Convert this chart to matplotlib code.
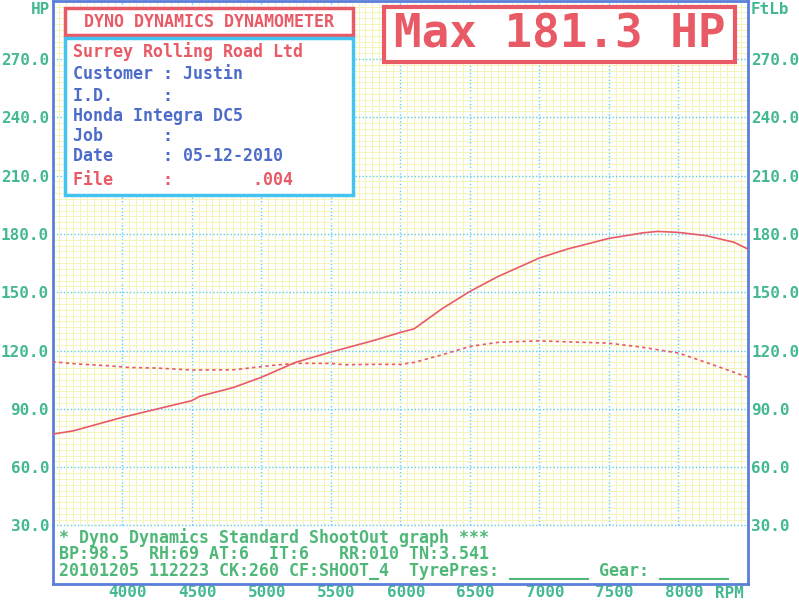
import matplotlib
matplotlib.use("Agg")
import matplotlib.pyplot as plt
from matplotlib.patches import Rectangle
from matplotlib.transforms import ScaledTranslation
import numpy as np

# power curve (HP)
rpm_hp = [3500, 3650, 4000, 4250, 4500, 4560, 4800, 5000, 5250, 5500, 5800, 6000,
          6100, 6300, 6500, 6700, 7000, 7200, 7500, 7750, 7850, 8000, 8200, 8400, 8500]
hp = [77.0, 78.7, 85.6, 89.9, 94.2, 96.5, 101.0, 106.2, 114.0, 119.2, 125.0, 129.3,
      131.2, 141.5, 150.4, 158.0, 167.6, 172.2, 177.7, 180.6, 181.3, 180.8, 179.1, 175.7, 172.2]

# torque curve (FtLb)
rpm_tq = [3500, 3700, 3900, 4050, 4250, 4500, 4800, 4950, 5100, 5250, 5500, 5600, 5800,
          6000, 6100, 6300, 6500, 6700, 7000, 7200, 7500, 7750, 8000, 8200, 8400, 8500]
tq = [114.2, 113.0, 112.2, 111.3, 111.0, 110.0, 110.1, 111.3, 112.5, 113.4, 113.4, 112.7, 112.9,
      112.9, 113.9, 117.8, 122.1, 124.2, 125.0, 124.5, 123.8, 121.6, 118.7, 113.9, 108.8, 106.2]

rpm_ticks = [4000, 4500, 5000, 5500, 6000, 6500, 7000, 7500, 8000]
val_ticks = [30, 60, 90, 120, 150, 180, 210, 240, 270]

header = "DYNO DYNAMICS DYNAMOMETER"
max_text = "Max 181.3 HP"
info_lines = ["Surrey Rolling Road Ltd",
              "Customer : Justin",
              "I.D.     :",
              "Honda Integra DC5",
              "Job      :",
              "Date     : 05-12-2010",
              "File     :        .004"]
foot_lines = ["* Dyno Dynamics Standard ShootOut graph ***",
              "BP:98.5  RH:69 AT:6  IT:6   RR:010 TN:3.541",
              "20101205 112223 CK:260 CF:SHOOT_4  TyrePres: ________ Gear: _______"]

RED = "#e85a66"
BLUE = "#4d6cc9"
CYAN = "#45c3ef"
FRAME = "#5b7fd9"
TICK = "#44b991"
FOOT = "#4fb878"

plt.rcParams['font.family'] = ['DejaVu Sans Mono']
plt.rcParams['font.weight'] = 'bold'

W, H = 799, 601
fig = plt.figure(figsize=(W / 100, H / 100), dpi=100)

def fx(x):
    return x / W

def fy(y):
    return 1 - y / H

ax = fig.add_axes([fx(52.5), fy(583.8), (748 - 52.5) / W, (583.8 - 0.7) / H])
ax.set_xlim(3500, 8500)
ax.set_ylim(0, 300)

ax.set_xticks(rpm_ticks)
ax.set_xticks(np.arange(3500, 8501, 50), minor=True)
ax.set_yticks(val_ticks)
ax.set_yticks(np.arange(0, 301, 3), minor=True)
ax.grid(which='minor', color='#f4f4b6', lw=0.7)
ax.grid(which='major', color='#5ccfe9', ls=(0, (1, 1.5)), lw=1.0)

ax.set_xticklabels([str(v) for v in rpm_ticks])
ax.set_yticklabels(["%.1f" % v for v in val_ticks])
ax.tick_params(which='both', length=0)
ax.tick_params(axis='y', labelleft=True, labelright=True, pad=2.5,
               labelsize=11.5, labelcolor=TICK)
ax.tick_params(axis='x', pad=1, labelsize=11.5, labelcolor=TICK)
for lab in ax.get_xticklabels():
    lab.set_transform(lab.get_transform() + ScaledTranslation(4 / 72, 0, fig.dpi_scale_trans))

for s in ax.spines.values():
    s.set_color(FRAME)
    s.set_linewidth(2)

ax.axhspan(0, 29.3, color='white', zorder=2)

ax.plot(rpm_hp, hp, color=RED, lw=1.2, zorder=3)
ax.plot(rpm_tq, tq, color=RED, lw=1.2, ls=(0, (2, 2)), zorder=3)

# axis unit labels
fig.text(fx(50), fy(10), "HP", ha='right', va='center', color=TICK, fontsize=11.5)
fig.text(fx(751), fy(10), "FtLb", ha='left', va='center', color=TICK, fontsize=11.5)
fig.text(fx(715), fy(594), "RPM", ha='left', va='center', color=TICK, fontsize=11.5)

def box(x0, y0, x1, y1, ec, lw=2.5):
    fig.add_artist(Rectangle((fx(x0), fy(y1)), (x1 - x0) / W, (y1 - y0) / H,
                             transform=fig.transFigure, fc='white', ec=ec, lw=lw, zorder=5))

box(65, 8, 353, 35, RED)
fig.text(fx(209), fy(22), header, ha='center', va='center', color=RED, fontsize=12, zorder=6)

box(65, 38, 353, 195, CYAN)
info_y = [52, 74, 96, 116, 136, 156, 180]
for i, (t, y) in enumerate(zip(info_lines, info_y)):
    c = RED if i in (0, 6) else BLUE
    fig.text(fx(73), fy(y), t, ha='left', va='center', color=c, fontsize=12, zorder=6)

box(384, 7, 735, 62, RED, lw=3)
fig.text(fx(559.5), fy(35), max_text, ha='center', va='center', color=RED,
         fontsize=33, zorder=6)

# footer block, one text so the tight line pitch matches the sheet
fig.text(fx(59), fy(554), "\n".join(foot_lines), ha='left', va='center', color=FOOT,
         fontsize=12, linespacing=0.88, zorder=6)

fig.savefig("out.png", dpi=100)
